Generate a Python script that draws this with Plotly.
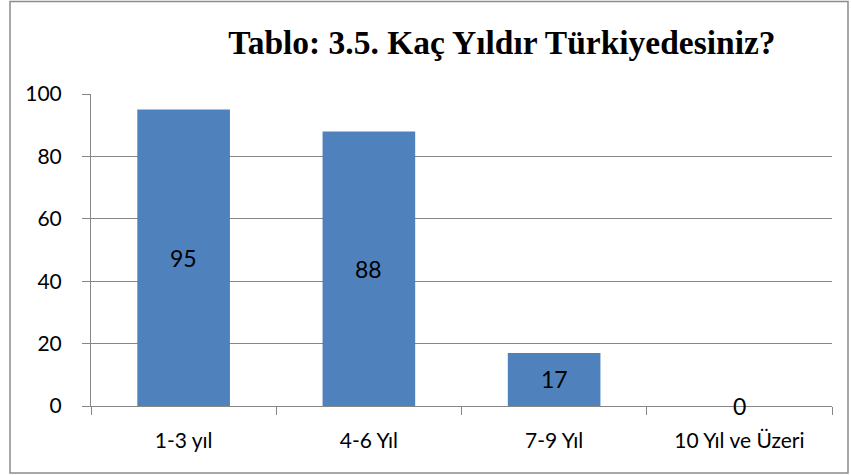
import plotly.graph_objects as go

categories = ["1-3 yıl", "4-6 Yıl", "7-9 Yıl", "10 Yıl ve Üzeri"]
values = [95, 88, 17, 0]
y_ticks = [0, 20, 40, 60, 80, 100]
title_text = "Tablo: 3.5. Kaç Yıldır Türkiyedesiniz?"

W, H = 851, 475
L, R, T, B = 91, 19, 94, 69
pw, ph = W - L - R, H - T - B

def px_to_paper_x(px):
    return (px - L) / pw

def px_to_paper_y(py):
    return (H - B - py) / ph

font_family = "Lato, 'Open Sans', sans-serif"

fig = go.Figure()
fig.add_trace(go.Bar(
    x=categories, y=values,
    marker=dict(color="#4F81BD", line=dict(width=0)),
    width=0.5,
    hoverinfo="skip",
))

for c, v in zip(categories, values):
    fig.add_annotation(x=c, y=v / 2, text=str(v), showarrow=False,
                       font=dict(family=font_family, size=23, color="#000000"),
                       xref="x", yref="y")

fig.add_shape(type="rect", xref="paper", yref="paper",
              x0=px_to_paper_x(10), x1=px_to_paper_x(848),
              y0=px_to_paper_y(473), y1=px_to_paper_y(1.5),
              line=dict(color="#8C8C8C", width=1.5), fillcolor="rgba(0,0,0,0)",
              layer="below")

fig.update_layout(
    width=W, height=H,
    margin=dict(l=L, r=R, t=T, b=B),
    paper_bgcolor="white", plot_bgcolor="white",
    showlegend=False,
    title=dict(text="<b>" + title_text + "</b>",
               x=502 / W, xanchor="center",
               y=1 - 42 / H, yanchor="middle",
               font=dict(family="'Liberation Serif', 'Times New Roman', serif", size=33.5, color="#000000")),
    bargap=0.5,
    font=dict(family=font_family, size=21, color="#000000"),
)

fig.update_xaxes(
    type="category", tickson="boundaries",
    ticks="outside", ticklen=8, tickcolor="#868686", tickwidth=1,
    showline=True, linecolor="#868686", linewidth=1,
    showgrid=False, tickfont=dict(family=font_family, size=21),
    ticklabelstandoff=16,
)
fig.update_yaxes(
    range=[0, 100], tickvals=y_ticks,
    ticks="outside", ticklen=8, tickcolor="#868686", tickwidth=1,
    showline=True, linecolor="#868686", linewidth=1,
    showgrid=True, gridcolor="#868686", gridwidth=1,
    zeroline=False, tickfont=dict(family=font_family, size=21),
    ticklabelstandoff=16,
)

fig.write_html("out.html", config={"displayModeBar": False},
               post_script="document.body.style.margin='0';")
